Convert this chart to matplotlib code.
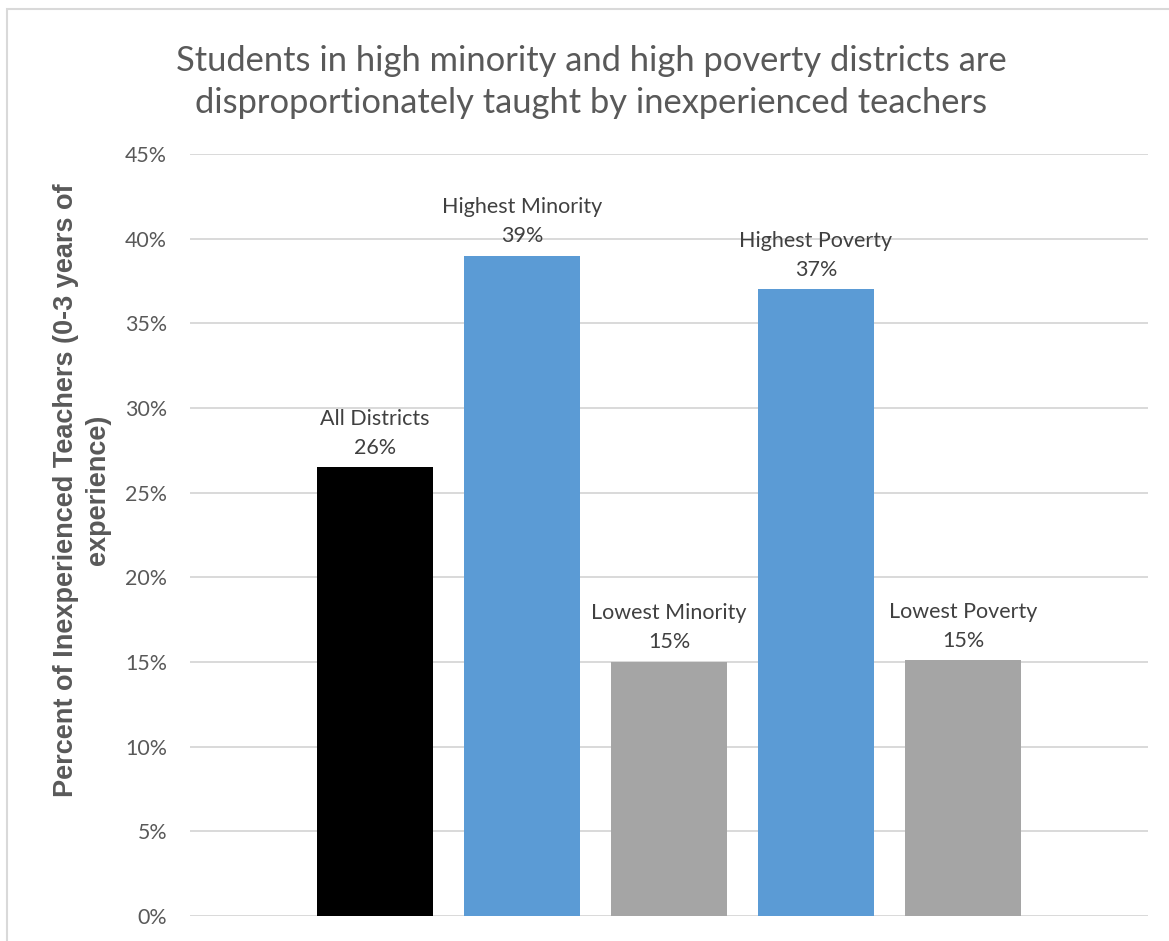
import matplotlib
matplotlib.use("Agg")
import matplotlib.pyplot as plt
from matplotlib.patches import Rectangle
from matplotlib.ticker import FuncFormatter

plt.rcParams['font.family'] = ['Lato', 'DejaVu Sans']

# data
groups = ["All Districts", "Highest Minority", "Lowest Minority",
          "Highest Poverty", "Lowest Poverty"]
values = [0.265, 0.390, 0.150, 0.370, 0.151]
shown = ["26%", "39%", "15%", "37%", "15%"]
colors = ["#000000", "#5b9bd5", "#a5a5a5", "#5b9bd5", "#a5a5a5"]

W, H = 1169, 941
fig = plt.figure(figsize=(W / 100, H / 100), dpi=100)
ax = fig.add_axes([190 / W, 1 - 916 / H, (1148 - 190) / W, (916 - 154) / H])

x = list(range(len(groups)))
bars = ax.bar(x, values, width=0.79, color=colors, zorder=2)

for b, g, s in zip(bars, groups, shown):
    ax.annotate(g + "\n" + s, (b.get_x() + b.get_width() / 2, b.get_height()),
                xytext=(0, 7), textcoords="offset points", ha="center",
                va="bottom", fontsize=15.5, color="#404040", linespacing=1.55)

ax.set_xlim(-1.259, 5.259)
ax.set_ylim(0, 0.45)
ax.set_yticks([i * 0.05 for i in range(10)])
ax.yaxis.set_major_formatter(FuncFormatter(lambda v, p: "{:.0f}%".format(v * 100)))
ax.tick_params(axis="y", length=0, pad=16.5, labelsize=15.4, labelcolor="#595959")
ax.set_xticks([])
ax.grid(axis="y", color="#d9d9d9", lw=1.4, zorder=0)
for sp in ax.spines.values():
    sp.set_visible(False)

fig.text(82 / W, 1 - 490 / H,
         "Percent of Inexperienced Teachers (0-3 years of\nexperience)",
         rotation=90, ha="center", va="center", fontsize=19.5, fontweight="bold",
         family=["Liberation Sans", "DejaVu Sans"], color="#595959", linespacing=1.3)

fig.text(0.5 * (177 + 1006) / W, 1 - 82 / H,
         "Students in high minority and high poverty districts are\n"
         "disproportionately taught by inexperienced teachers",
         ha="center", va="center", fontsize=24.8, color="#595959", linespacing=1.35)

# chart border
fig.patches.append(Rectangle((7 / W, -0.1), 1.2, 1.1 - 9.5 / H, transform=fig.transFigure,
                             fill=False, edgecolor="#d9d9d9", lw=1.5))

fig.savefig("out.png", dpi=100)
